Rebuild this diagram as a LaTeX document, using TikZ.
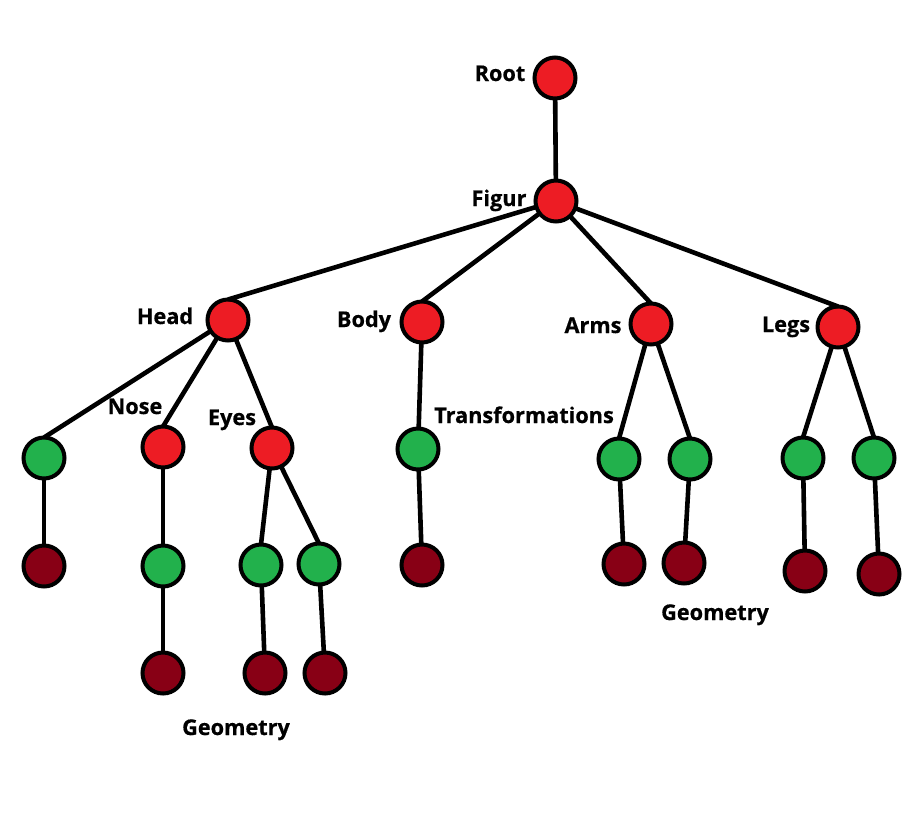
\documentclass[tikz,border=0pt]{standalone}
\usepackage{fontspec}
\setmainfont{Open Sans}[BoldFeatures={FakeBold=0.6}]
\begin{document}
\begin{tikzpicture}[
	x=1pt,y=-1pt,
	edge/.style={-,line width=4.6pt},
	vert/.style={circle,draw,line width=4pt,minimum size=41pt,inner sep=0pt,outer sep=0pt},
	rednode/.style={vert,fill=figred},
	greennode/.style={vert,fill=figgreen},
	darknode/.style={vert,fill=figdark},
	lbl/.style={anchor=base,font=\bfseries\fontsize{21.7}{26}\selectfont}
	]
	\definecolor{figred}{HTML}{ED1C24}
	\definecolor{figgreen}{HTML}{22B14C}
	\definecolor{figdark}{HTML}{880015}
	\useasboundingbox (0,0) rectangle (923,815);
	
	% top levels
	\node[rednode] (root) at (555,78) {}; \node[lbl] at (500,81) {Root};
	\node[rednode] (figur) at (556,201) {}; \node[lbl] at (499,206) {Figur};
	\node[rednode] (head) at (228,320) {}; \node[lbl] at (165,324) {Head};
	\node[rednode] (body) at (422,322) {}; \node[lbl] at (364,327) {Body};
	\node[rednode] (arms) at (651,324) {}; \node[lbl] at (593,333) {Arms};
	\node[rednode] (legs) at (838,327) {}; \node[lbl] at (786,332) {Legs};
	
	% head
	\node[greennode] (h1) at (44,458) {};
	\node[rednode] (nose) at (163,447) {}; \node[lbl] at (135,414) {Nose};
	\node[rednode] (eyes) at (272,448) {}; \node[lbl] at (232,425) {Eyes};
	\node[darknode] (h1g) at (44,566) {};
	\node[greennode] (n1) at (163,566) {};
	\node[darknode] (n1g) at (163,673) {};
	\node[greennode] (e1) at (261,565) {};
	\node[greennode] (e2) at (319,564) {};
	\node[darknode] (e1g) at (265,673) {};
	\node[darknode] (e2g) at (325,673) {};
	\node[lbl] at (236,735) {Geometry};
	
	% body
	\node[greennode] (b1) at (418,449) {}; \node[lbl] at (524,423) {Transformations};
	\node[darknode] (b1g) at (422,565) {};
	
	% arms and legs
	\node[greennode] (a1) at (619,459) {};
	\node[greennode] (a2) at (690,459) {};
	\node[greennode] (l1) at (803,458) {};
	\node[greennode] (l2) at (874,458) {};
	\node[darknode] (a1g) at (624,564) {};
	\node[darknode] (a2g) at (684,563) {};
	\node[darknode] (l1g) at (805,571) {};
	\node[darknode] (l2g) at (879,574) {};
	\node[lbl] at (715,620) {Geometry};
	
	\draw[edge] (root) -- (figur);
	\draw[edge] (figur) -- (head.north); \draw[edge] (figur) -- (body.north);
	\draw[edge] (figur) -- (arms.north); \draw[edge] (figur) -- (legs.north);
	\draw[edge] (head) -- (h1.north); \draw[edge] (h1) -- (h1g);
	\draw[edge] (head) -- (nose.north); \draw[edge] (nose) -- (n1) -- (n1g);
	\draw[edge] (head) -- (eyes.north);
	\draw[edge] (eyes) -- (e1.north); \draw[edge] (e1) -- (e1g);
	\draw[edge] (eyes) -- (e2.north); \draw[edge] (e2) -- (e2g);
	\draw[edge] (body) -- (b1) -- (b1g);
	\draw[edge] (arms) -- (a1.north); \draw[edge] (a1) -- (a1g);
	\draw[edge] (arms) -- (a2.north); \draw[edge] (a2) -- (a2g);
	\draw[edge] (legs) -- (l1.north); \draw[edge] (l1) -- (l1g);
	\draw[edge] (legs) -- (l2.north); \draw[edge] (l2) -- (l2g);
	\end{tikzpicture}
\end{document}
